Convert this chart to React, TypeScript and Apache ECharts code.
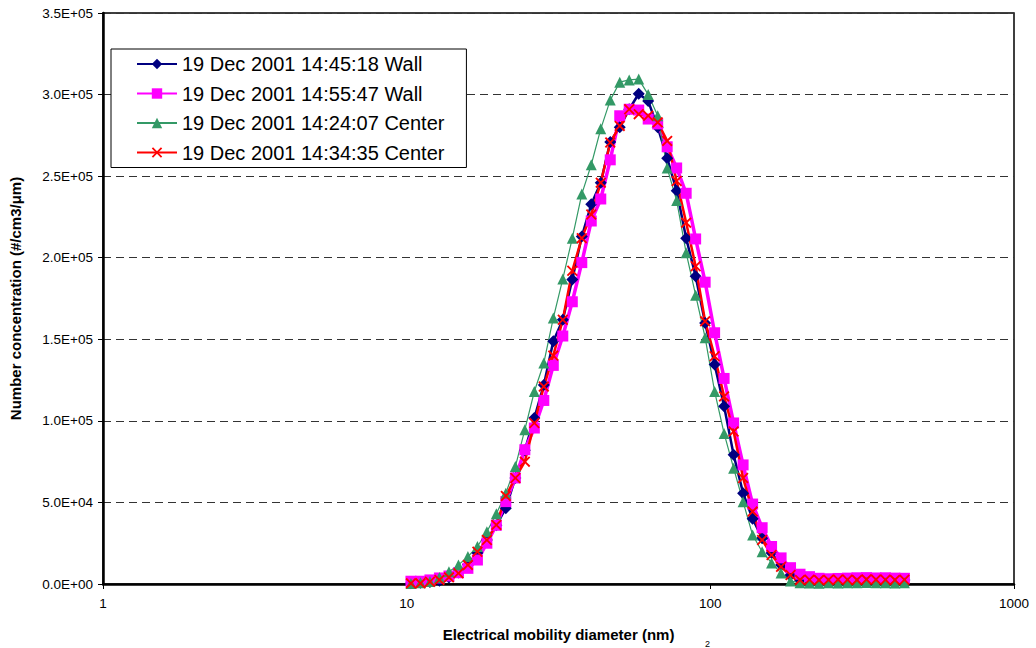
import React, { useEffect, useRef } from 'react';
import * as echarts from 'echarts';

// Electrical mobility diameter (nm), one per channel
const diameters = [
  10.33, 11.1, 11.93, 12.82, 13.78, 14.81, 15.91, 17.1, 18.37, 19.74,
  21.21, 22.8, 24.5, 26.33, 28.29, 30.4, 32.67, 35.11, 37.73, 40.54,
  43.57, 46.82, 50.31, 54.06, 58.1, 62.43, 67.09, 72.09, 77.47, 83.25,
  89.46, 96.14, 103.3, 111.0, 119.3, 128.2, 137.8, 148.1, 159.1, 171.0,
  183.7, 197.4, 212.1, 228.0, 245.0, 263.3, 282.9, 304.0, 326.7, 351.1,
  377.3, 405.4, 435.7,
];

// 19 Dec 2001 14:45:18 Wall
const wall144518 = [
  500, 800, 1200, 2000, 4000, 7000, 12000, 19000, 27000, 36000,
  46500, 65000, 82000, 101700, 122000, 148800, 162000, 186700, 213000, 232700,
  246000, 271000, 280000, 291000, 300500, 296000, 280000, 261000, 241000, 212000,
  188700, 160000, 134500, 108900, 79200, 55700, 40000, 28000, 19000, 11700,
  5500, 2500, 2000, 1800, 2000, 2200, 2500, 2300, 2400, 2600,
  2500, 2300, 2400,
];

// 19 Dec 2001 14:55:47 Wall
const wall145547 = [
  1700, 1700, 2500, 3700, 4900, 6900, 9600, 14700, 25000, 36000,
  50500, 65000, 82300, 95600, 112500, 134000, 152000, 173000, 197000, 222500,
  236000, 260000, 287000, 291000, 290500, 285000, 282000, 268000, 255000, 239500,
  211500, 185000, 154000, 126000, 98700, 73000, 49000, 34500, 23000, 16000,
  10000, 6000, 4500, 3500, 3200, 3400, 3600, 3800, 3900, 3700,
  3800, 3600, 3500,
];

// 19 Dec 2001 14:24:07 Center
const center142407 = [
  300, 800, 1500, 4000, 7500, 11700, 16800, 23000, 32000, 43000,
  55700, 72000, 94600, 118000, 135500, 163000, 187000, 212000, 239000, 257000,
  279000, 296600, 307600, 309000, 309500, 300000, 287000, 255000, 235000, 203000,
  177000, 151000, 118000, 92300, 71000, 50400, 30000, 19800, 12900, 6700,
  1800, 800, 600, 500, 700, 600, 800, 700, 900, 800,
  700, 600, 700,
];

// 19 Dec 2001 14:34:35 Center
const center143435 = [
  400, 400, 1400, 2500, 4100, 6600, 11700, 19800, 27000, 36200,
  54000, 65000, 75000, 98700, 121000, 140000, 162000, 192000, 212000, 226500,
  246000, 270600, 280800, 291000, 288000, 287000, 283000, 271600, 247000, 221500,
  194800, 161000, 139600, 115000, 93500, 65000, 44400, 27000, 17800, 10600,
  5500, 2500, 2600, 2400, 2500, 2700, 2600, 2500, 2800, 2700,
  2600, 2500, 2600,
];

const seriesNames = [
  '19 Dec 2001 14:45:18 Wall',
  '19 Dec 2001 14:55:47 Wall',
  '19 Dec 2001 14:24:07 Center',
  '19 Dec 2001 14:34:35 Center',
];

const xTitle = 'Electrical mobility diameter (nm)';
const yTitle = 'Number concentration (#/cm3/\u03bcm)';

const FONT = '"Liberation Sans", Arial, sans-serif';
const X_SYMBOL = 'path://M0,1.2L1.2,0L5,3.8L8.8,0L10,1.2L6.2,5L10,8.8L8.8,10L5,6.2L1.2,10L0,8.8L3.8,5Z';

function sci(v: number): string {
  const [m, e] = v.toExponential(1).split('e');
  const n = parseInt(e, 10);
  return m + 'E' + (n < 0 ? '-' : '+') + String(Math.abs(n)).padStart(2, '0');
}

export default function App() {
  const ref = useRef<HTMLDivElement>(null);

  useEffect(() => {
    if (!ref.current) return;
    const chart = echarts.init(ref.current, null, { renderer: 'svg' });
    const pairs = (ys: number[]) => diameters.map((d, i) => [d, ys[i]]);

    chart.setOption({
      animation: false,
      backgroundColor: '#ffffff',
      textStyle: { fontFamily: FONT },
      grid: {
        left: 100,
        right: 22,
        top: 13,
        bottom: 64,
        show: true,
        borderColor: '#000',
        borderWidth: 1.5,
        backgroundColor: 'transparent',
      },
      legend: {
        show: true,
        orient: 'vertical',
        left: 111,
        top: 49,
        backgroundColor: '#ffffff',
        borderColor: '#000',
        borderWidth: 1,
        padding: [4, 22, 4, 25],
        itemGap: 7.5,
        itemWidth: 40,
        itemHeight: 13,
        textStyle: { fontSize: 20, color: '#000', fontFamily: FONT, lineHeight: 22 },
        data: seriesNames,
      },
      graphic: [
        {
          type: 'text',
          left: 705,
          top: 639,
          style: { text: '2', fontSize: 9, fill: '#000', fontFamily: FONT },
        },
      ],
      xAxis: {
        type: 'log',
        logBase: 10,
        min: 1,
        max: 1000,
        name: xTitle,
        nameLocation: 'middle',
        nameGap: 43,
        nameTextStyle: { fontSize: 15, fontWeight: 'bold', color: '#000', fontFamily: FONT },
        axisLine: { show: true, onZero: false, lineStyle: { color: '#000', width: 2.5 } },
        axisTick: { show: true, length: 5, lineStyle: { color: '#000', width: 1 } },
        minorTick: { show: false },
        splitLine: { show: false },
        axisLabel: {
          fontSize: 13.5,
          color: '#000',
          margin: 12,
          fontFamily: FONT,
          formatter: (v: number) => String(Math.round(v)),
        },
      },
      yAxis: {
        type: 'value',
        min: 0,
        max: 350000,
        interval: 50000,
        name: yTitle,
        nameLocation: 'middle',
        nameGap: 80,
        nameRotate: 90,
        nameTextStyle: { fontSize: 15, fontWeight: 'bold', color: '#000', fontFamily: FONT },
        axisLine: { show: true, lineStyle: { color: '#000', width: 2.5 } },
        axisTick: { show: true, length: 5, lineStyle: { color: '#000', width: 1 } },
        splitLine: { show: true, lineStyle: { color: '#333', width: 1, type: [8, 5] } },
        axisLabel: {
          fontSize: 13.5,
          color: '#000',
          margin: 10,
          fontFamily: FONT,
          formatter: (v: number) => sci(v),
        },
      },
      series: [
        {
          name: seriesNames[0],
          type: 'line',
          data: pairs(wall144518),
          symbol: 'diamond',
          symbolSize: 12,
          lineStyle: { color: '#000080', width: 2.5 },
          itemStyle: { color: '#000080' },
        },
        {
          name: seriesNames[1],
          type: 'line',
          data: pairs(wall145547),
          symbol: 'rect',
          symbolSize: 11,
          lineStyle: { color: '#FF00FF', width: 3.5 },
          itemStyle: { color: '#FF00FF' },
        },
        {
          name: seriesNames[2],
          type: 'line',
          data: pairs(center142407),
          symbol: 'triangle',
          symbolSize: 11,
          lineStyle: { color: '#339966', width: 1.2 },
          itemStyle: { color: '#339966' },
        },
        {
          name: seriesNames[3],
          type: 'line',
          data: pairs(center143435),
          symbol: X_SYMBOL,
          symbolSize: 11,
          lineStyle: { color: '#FF0000', width: 2.5 },
          itemStyle: { color: '#FF0000' },
        },
      ].map((s) => ({ ...s, showSymbol: true, showAllSymbol: true, emphasis: { disabled: true } })),
    });

    return () => chart.dispose();
  }, []);

  return (
    <div
      ref={ref}
      style={{ position: 'fixed', left: 0, top: 0, width: 1036, height: 648, background: '#fff' }}
    />
  );
}
